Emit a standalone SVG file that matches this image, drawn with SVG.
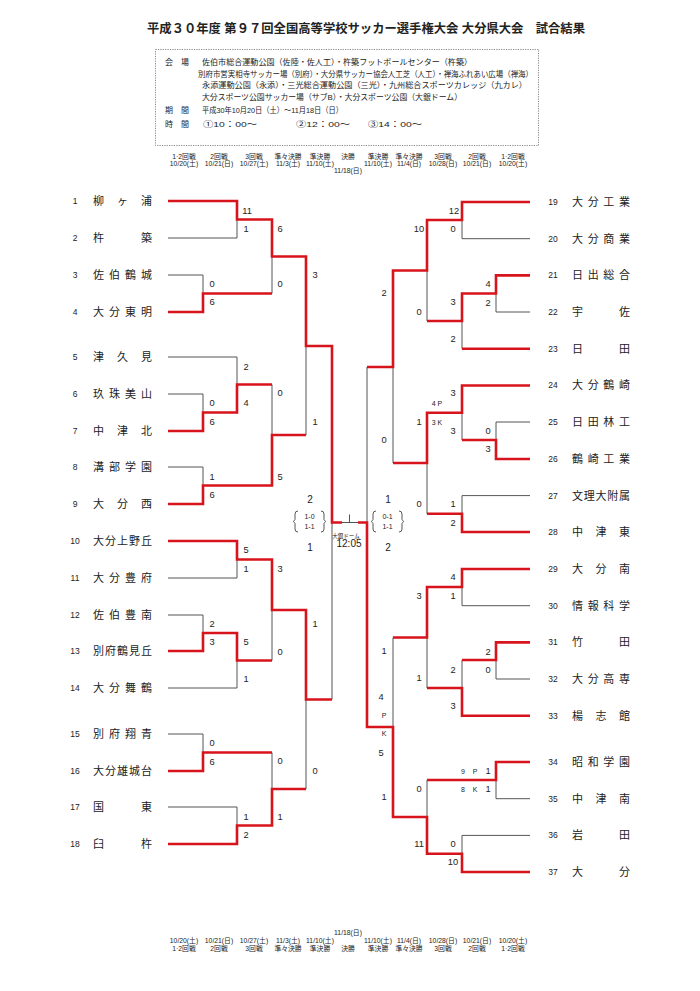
<svg xmlns="http://www.w3.org/2000/svg" width="700" height="991" viewBox="0 0 700 991">
<style>
text{font-family:'Liberation Sans','Noto Sans CJK JP',sans-serif;fill:#222}
.t{font-size:12.5px;font-weight:bold}
.i{font-size:8px}
.h{font-size:6.8px;text-anchor:middle}
.n{font-size:8.5px;text-anchor:middle}
.m{font-size:11px}
.s{font-size:9.3px;text-anchor:middle}
.sm{font-size:7px;text-anchor:middle}
.g{stroke:#555;stroke-width:1;fill:none}
.r{stroke:#d7131b;stroke-width:2.6;fill:none}
.k{stroke:#444;stroke-width:0.9;fill:none}
</style>
<rect width="700" height="991" fill="#fff"/>
<text class="t" x="147" y="33" textLength="438" lengthAdjust="spacingAndGlyphs">平成３０年度 第９７回全国高等学校サッカー選手権大会 大分県大会　試合結果</text>
<g id="info">
<rect x="155.5" y="49.5" width="383" height="96" fill="none" stroke="#888" stroke-width="1" stroke-dasharray="1.2,1.2"/>
<text class="i" x="165" y="65">会　場</text>
<text class="i" x="202" y="65" textLength="270" lengthAdjust="spacingAndGlyphs">佐伯市総合運動公園（佐陸・佐人工）・杵築フットボールセンター（杵築）</text>
<text class="i" x="198" y="76.5" textLength="335" lengthAdjust="spacingAndGlyphs">別府市営実相寺サッカー場（別府）・大分県サッカー協会人工芝（人工）・禅海ふれあい広場（禅海）</text>
<text class="i" x="202" y="88" textLength="325" lengthAdjust="spacingAndGlyphs">永添運動公園（永添）・三光総合運動公園（三光）・九州総合スポーツカレッジ（九カレ）</text>
<text class="i" x="202" y="99.5" textLength="260" lengthAdjust="spacingAndGlyphs">大分スポーツ公園サッカー場（サブB）・大分スポーツ公園（大銀ドーム）</text>
<text class="i" x="165" y="113">期　間</text>
<text class="i" x="202" y="113" textLength="141" lengthAdjust="spacingAndGlyphs">平成30年10月20日（土）～11月18日（日）</text>
<text class="i" x="165" y="126.5">時　間</text>
<text class="i" x="203" y="126.5" textLength="54" lengthAdjust="spacingAndGlyphs">①10：00～</text>
<text class="i" x="296" y="126.5" textLength="54" lengthAdjust="spacingAndGlyphs">②12：00～</text>
<text class="i" x="368" y="126.5" textLength="54" lengthAdjust="spacingAndGlyphs">③14：00～</text>
</g>
<g id="header">
<text class="h" x="184" y="159">1·2回戦</text><text class="h" x="219" y="159">2回戦</text><text class="h" x="254" y="159">3回戦</text><text class="h" x="288" y="159">準々決勝</text><text class="h" x="320" y="159">準決勝</text><text class="h" x="348" y="159">決勝</text><text class="h" x="378" y="159">準決勝</text><text class="h" x="409" y="159">準々決勝</text><text class="h" x="443" y="159">3回戦</text><text class="h" x="477" y="159">2回戦</text><text class="h" x="513" y="159">1·2回戦</text>
<text class="h" x="184" y="166">10/20(土)</text><text class="h" x="219" y="166">10/21(日)</text><text class="h" x="254" y="166">10/27(土)</text><text class="h" x="288" y="166">11/3(土)</text><text class="h" x="320" y="166">11/10(土)</text><text class="h" x="378" y="166">11/10(土)</text><text class="h" x="409" y="166">11/4(日)</text><text class="h" x="443" y="166">10/28(日)</text><text class="h" x="477" y="166">10/21(日)</text><text class="h" x="513" y="166">10/20(土)</text>
<text class="h" x="348" y="173">11/18(日)</text>
</g>
<g id="footer">
<text class="h" x="348" y="935">11/18(日)</text>
<text class="h" x="184" y="943">10/20(土)</text><text class="h" x="219" y="943">10/21(日)</text><text class="h" x="254" y="943">10/27(土)</text><text class="h" x="288" y="943">11/3(土)</text><text class="h" x="320" y="943">11/10(土)</text><text class="h" x="378" y="943">11/10(土)</text><text class="h" x="409" y="943">11/4(日)</text><text class="h" x="443" y="943">10/28(日)</text><text class="h" x="477" y="943">10/21(日)</text><text class="h" x="513" y="943">10/20(土)</text>
<text class="h" x="184" y="951">1·2回戦</text><text class="h" x="219" y="951">2回戦</text><text class="h" x="254" y="951">3回戦</text><text class="h" x="288" y="951">準々決勝</text><text class="h" x="320" y="951">準決勝</text><text class="h" x="348" y="951">決勝</text><text class="h" x="378" y="951">準決勝</text><text class="h" x="409" y="951">準々決勝</text><text class="h" x="443" y="951">3回戦</text><text class="h" x="477" y="951">2回戦</text><text class="h" x="513" y="951">1·2回戦</text>
</g>
<g id="connectors">
<path class="g" d="M168,238H237V219.5M168,275H203V293.5M168,357H237V384.5M168,394H203V412.5M168,467H203V485.5M168,578H237V559.5M168,615H203V633M168,688H237V660.5M168,734H203V752.5M168,807H237V825.5M272,293.5V256.5M272,384.5V435M272,660.5V610M272,752.5V789M306,435V346M306,789V699.5M332,699.5V522.5M342,522.5H358"/>
<path class="k" d="M349.5,522.5V514.5"/>
<path class="g" d="M530,238.7H462V220M530,312H496V293.5M462,348.8V321M530,422H496V440M462,440V412.8M530,495.6H462V513.8M530,605.7H462V587M530,679H496V660M462,660V688M530,798.7H496V780M530,835.4H462V853.7M427,321V270.5M427,513.8V463M427,688V637.5M427,780V817M393,463V367M393,637.5V727M367,367V522.5"/>
<path class="r" d="M168,201H237V219.5H272V256.5H306V346H332V522.5H342M168,312H203V293.5H272M168,431H203V412.5H237V384.5H272M168,504H203V485.5H272V435H306M168,541H237V559.5H272V610H306V699.5H332M168,651H203V633H237V660.5H272M168,771H203V752.5H272M168,844H237V825.5H272V789H306"/>
<path class="r" d="M530,202H462V220H427V270.5H393V367H367M530,275.4H496V293.5H462V321H427M530,348.8H462M530,385.5H462V412.8H427V463H393M530,459H496V440H462M530,532H462V513.8H427M530,569H462V587H427V637.5H393M530,642.4H496V660H462M530,715.8H462V688H427M530,762H496V780H427M530,872H462V853.7H427V817H393V727H367V522.5H358"/>
<path class="k" d="M298,511Q295,511 295,514V519.5L293.5,521.5L295,523.5V529Q295,532 298,532M321,511Q324,511 324,514V519.5L325.5,521.5L324,523.5V529Q324,532 321,532"/>
<path class="k" d="M376,511Q373,511 373,514V519.5L371.5,521.5L373,523.5V529Q373,532 376,532M399,511Q402,511 402,514V519.5L403.5,521.5L402,523.5V529Q402,532 399,532"/>
</g>
<g id="teams-left">
<g id="t1"><text class="n" x="75" y="204">1</text><text class="m" x="93" y="205" textLength="59" lengthAdjust="spacing">柳ヶ浦</text></g>
<g id="t2"><text class="n" x="75" y="241">2</text><text class="m" x="93" y="242" textLength="59" lengthAdjust="spacing">杵築</text></g>
<g id="t3"><text class="n" x="75" y="278">3</text><text class="m" x="93" y="279" textLength="59" lengthAdjust="spacing">佐伯鶴城</text></g>
<g id="t4"><text class="n" x="75" y="315">4</text><text class="m" x="93" y="316" textLength="59" lengthAdjust="spacing">大分東明</text></g>
<g id="t5"><text class="n" x="75" y="360">5</text><text class="m" x="93" y="361" textLength="59" lengthAdjust="spacing">津久見</text></g>
<g id="t6"><text class="n" x="75" y="397">6</text><text class="m" x="93" y="398" textLength="59" lengthAdjust="spacing">玖珠美山</text></g>
<g id="t7"><text class="n" x="75" y="434">7</text><text class="m" x="93" y="435" textLength="59" lengthAdjust="spacing">中津北</text></g>
<g id="t8"><text class="n" x="75" y="470">8</text><text class="m" x="93" y="471" textLength="59" lengthAdjust="spacing">溝部学園</text></g>
<g id="t9"><text class="n" x="75" y="507">9</text><text class="m" x="93" y="508" textLength="59" lengthAdjust="spacing">大分西</text></g>
<g id="t10"><text class="n" x="75" y="544">10</text><text class="m" x="93" y="545" textLength="59" lengthAdjust="spacing">大分上野丘</text></g>
<g id="t11"><text class="n" x="75" y="581">11</text><text class="m" x="93" y="582" textLength="59" lengthAdjust="spacing">大分豊府</text></g>
<g id="t12"><text class="n" x="75" y="618">12</text><text class="m" x="93" y="619" textLength="59" lengthAdjust="spacing">佐伯豊南</text></g>
<g id="t13"><text class="n" x="75" y="654">13</text><text class="m" x="93" y="655" textLength="59" lengthAdjust="spacing">別府鶴見丘</text></g>
<g id="t14"><text class="n" x="75" y="691">14</text><text class="m" x="93" y="692" textLength="59" lengthAdjust="spacing">大分舞鶴</text></g>
<g id="t15"><text class="n" x="75" y="737">15</text><text class="m" x="93" y="738" textLength="59" lengthAdjust="spacing">別府翔青</text></g>
<g id="t16"><text class="n" x="75" y="774">16</text><text class="m" x="93" y="775" textLength="59" lengthAdjust="spacing">大分雄城台</text></g>
<g id="t17"><text class="n" x="75" y="810">17</text><text class="m" x="93" y="811" textLength="59" lengthAdjust="spacing">国東</text></g>
<g id="t18"><text class="n" x="75" y="847">18</text><text class="m" x="93" y="848" textLength="59" lengthAdjust="spacing">臼杵</text></g>
</g>
<g id="teams-right">
<g id="t19"><text class="n" x="553" y="205">19</text><text class="m" x="572" y="206" textLength="58" lengthAdjust="spacing">大分工業</text></g>
<g id="t20"><text class="n" x="553" y="242">20</text><text class="m" x="572" y="243" textLength="58" lengthAdjust="spacing">大分商業</text></g>
<g id="t21"><text class="n" x="553" y="278">21</text><text class="m" x="572" y="279" textLength="58" lengthAdjust="spacing">日出総合</text></g>
<g id="t22"><text class="n" x="553" y="315">22</text><text class="m" x="572" y="316" textLength="58" lengthAdjust="spacing">宇佐</text></g>
<g id="t23"><text class="n" x="553" y="352">23</text><text class="m" x="572" y="353" textLength="58" lengthAdjust="spacing">日田</text></g>
<g id="t24"><text class="n" x="553" y="388">24</text><text class="m" x="572" y="389" textLength="58" lengthAdjust="spacing">大分鶴崎</text></g>
<g id="t25"><text class="n" x="553" y="425">25</text><text class="m" x="572" y="426" textLength="58" lengthAdjust="spacing">日田林工</text></g>
<g id="t26"><text class="n" x="553" y="462">26</text><text class="m" x="572" y="463" textLength="58" lengthAdjust="spacing">鶴崎工業</text></g>
<g id="t27"><text class="n" x="553" y="499">27</text><text class="m" x="572" y="500" textLength="58" lengthAdjust="spacing">文理大附属</text></g>
<g id="t28"><text class="n" x="553" y="535">28</text><text class="m" x="572" y="536" textLength="58" lengthAdjust="spacing">中津東</text></g>
<g id="t29"><text class="n" x="553" y="572">29</text><text class="m" x="572" y="573" textLength="58" lengthAdjust="spacing">大分南</text></g>
<g id="t30"><text class="n" x="553" y="609">30</text><text class="m" x="572" y="610" textLength="58" lengthAdjust="spacing">情報科学</text></g>
<g id="t31"><text class="n" x="553" y="645">31</text><text class="m" x="572" y="646" textLength="58" lengthAdjust="spacing">竹田</text></g>
<g id="t32"><text class="n" x="553" y="682">32</text><text class="m" x="572" y="683" textLength="58" lengthAdjust="spacing">大分高専</text></g>
<g id="t33"><text class="n" x="553" y="719">33</text><text class="m" x="572" y="720" textLength="58" lengthAdjust="spacing">楊志館</text></g>
<g id="t34"><text class="n" x="553" y="765">34</text><text class="m" x="572" y="766" textLength="58" lengthAdjust="spacing">昭和学園</text></g>
<g id="t35"><text class="n" x="553" y="802">35</text><text class="m" x="572" y="803" textLength="58" lengthAdjust="spacing">中津南</text></g>
<g id="t36"><text class="n" x="553" y="838">36</text><text class="m" x="572" y="839" textLength="58" lengthAdjust="spacing">岩田</text></g>
<g id="t37"><text class="n" x="553" y="875">37</text><text class="m" x="572" y="876" textLength="58" lengthAdjust="spacing">大分</text></g>
</g>
<g id="scores">
<text class="s" x="212" y="287">0</text><text class="s" x="212" y="305">6</text><text class="s" x="212" y="406">0</text><text class="s" x="212" y="425">6</text><text class="s" x="212" y="480">1</text><text class="s" x="212" y="498">6</text><text class="s" x="212" y="627">2</text><text class="s" x="212" y="645">3</text><text class="s" x="212" y="746">0</text><text class="s" x="212" y="765">6</text>
<text class="s" x="247" y="214">11</text><text class="s" x="246" y="232">1</text><text class="s" x="246" y="370">2</text><text class="s" x="246" y="406">4</text><text class="s" x="246" y="553">5</text><text class="s" x="246" y="572">1</text><text class="s" x="246" y="645">5</text><text class="s" x="246" y="682">1</text><text class="s" x="246" y="820">1</text><text class="s" x="246" y="838">2</text>
<text class="s" x="280" y="232">6</text><text class="s" x="280" y="287">0</text><text class="s" x="280" y="396">0</text><text class="s" x="280" y="480">5</text><text class="s" x="280" y="572">3</text><text class="s" x="280" y="655">0</text><text class="s" x="280" y="764">0</text><text class="s" x="280" y="820">1</text>
<text class="s" x="315" y="278">3</text><text class="s" x="315" y="425">1</text><text class="s" x="315" y="627">1</text><text class="s" x="315" y="774">0</text>
<text class="s" x="310" y="503" style="font-size:10px">2</text><text class="sm" x="309.5" y="519">1-0</text><text class="sm" x="309.5" y="529">1-1</text><text class="s" x="310" y="551" style="font-size:10px">1</text>
<text class="s" x="388" y="503" style="font-size:10px">1</text><text class="sm" x="387.5" y="519">0-1</text><text class="sm" x="387.5" y="529">1-1</text><text class="s" x="388" y="551" style="font-size:10px">2</text>
<text x="346" y="537.5" style="font-size:5.5px;text-anchor:middle">大銀ドーム</text>
<text x="349" y="547" style="font-size:10px;text-anchor:middle">12:05</text>
<text class="s" x="488" y="287">4</text><text class="s" x="488" y="306">2</text><text class="s" x="488" y="434">0</text><text class="s" x="488" y="452">3</text><text class="s" x="488" y="655">2</text><text class="s" x="488" y="673">0</text>
<text class="sm" x="463" y="774">9</text><text class="sm" x="475" y="774">P</text><text class="s" x="488" y="774">1</text>
<text class="sm" x="463" y="792">8</text><text class="sm" x="475" y="792">K</text><text class="s" x="488" y="792">1</text>
<text class="s" x="454" y="214">12</text><text class="s" x="453" y="232">0</text><text class="s" x="453" y="305">3</text><text class="s" x="453" y="342">2</text><text class="s" x="453" y="396">3</text><text class="s" x="453" y="434">3</text><text class="s" x="453" y="507">1</text><text class="s" x="453" y="526">2</text><text class="s" x="453" y="580">4</text><text class="s" x="453" y="599">1</text><text class="s" x="453" y="673">2</text><text class="s" x="453" y="709">3</text><text class="s" x="453" y="847">0</text><text class="s" x="453" y="865">10</text>
<text class="sm" x="437" y="405.5">4 P</text><text class="sm" x="437" y="424.5">3 K</text>
<text class="s" x="419" y="232">10</text><text class="s" x="419" y="315">0</text><text class="s" x="419" y="425">1</text><text class="s" x="419" y="507">0</text><text class="s" x="419" y="599">3</text><text class="s" x="419" y="681">1</text><text class="s" x="419" y="792">0</text><text class="s" x="419" y="847">11</text>
<text class="s" x="384" y="296">2</text><text class="s" x="384" y="443">0</text><text class="s" x="384" y="654">1</text><text class="s" x="381" y="700">4</text><text class="sm" x="384" y="718">P</text><text class="sm" x="384" y="736">K</text><text class="s" x="381" y="756">5</text><text class="s" x="384" y="800">1</text>
</g>
</svg>
